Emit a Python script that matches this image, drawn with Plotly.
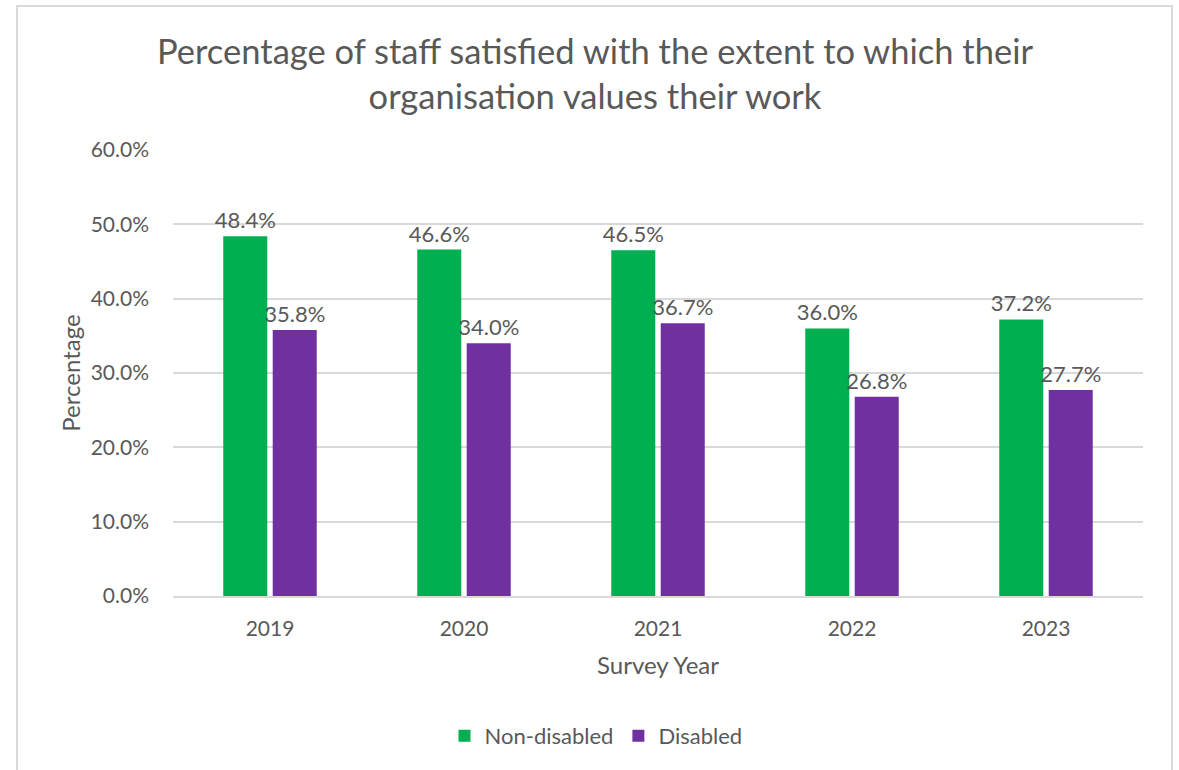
import plotly.graph_objects as go

years = ["2019", "2020", "2021", "2022", "2023"]
non_disabled = [48.4, 46.6, 46.5, 36.0, 37.2]
disabled = [35.8, 34.0, 36.7, 26.8, 27.7]
y_ticks = [0, 10, 20, 30, 40, 50, 60]
y_tick_labels = ["0.0%", "10.0%", "20.0%", "30.0%", "40.0%", "50.0%", "60.0%"]

FONT = "Lato"
TXT = "#595959"
W, H = 1179, 770
L, R, T, B = 173, 36, 150, 174

fig = go.Figure()
for name, vals, col in [("Non-disabled", non_disabled, "#00B050"),
                        ("Disabled", disabled, "#7030A0")]:
    fig.add_trace(go.Bar(
        name=name, x=years, y=vals, marker_color=col, marker_line_width=0,
        text=[f"{v:.1f}%" for v in vals], textposition="outside",
        constraintext="none",
        textfont=dict(family=FONT, size=22, color=TXT), cliponaxis=False,
    ))

pw, ph = W - L - R, H - T - B
def px(x): return (x - L) / pw
def py(y): return (H - B - y) / ph

fig.add_shape(type="rect", xref="paper", yref="paper",
              x0=px(17), x1=px(1172), y0=py(790), y1=py(6),
              line=dict(color="#D9D9D9", width=2), fillcolor="rgba(0,0,0,0)", layer="below")

fig.update_layout(
    width=W, height=H,
    margin=dict(l=L, r=R, t=T, b=B, pad=0, autoexpand=False),
    paper_bgcolor="white", plot_bgcolor="white",
    barmode="group", bargap=0.49, bargroupgap=0.11,
    font=dict(family=FONT, color=TXT, size=21),
    title=dict(
        text="Percentage of staff satisfied with the extent to which their<br>organisation values their work",
        x=595 / W, xref="container", xanchor="center",
        y=1 - 64 / H, yref="container", yanchor="middle",
        font=dict(family=FONT, size=34.5, color=TXT),
    ),
    xaxis=dict(
        showgrid=False, showline=True, linecolor="#D9D9D9", linewidth=2,
        ticks="", ticklabelstandoff=13, tickfont=dict(family=FONT, size=21, color=TXT),
        title=dict(text="Survey Year", font=dict(family=FONT, size=24, color=TXT), standoff=18),
    ),
    yaxis=dict(
        range=[0, 60], tickvals=y_ticks, ticktext=y_tick_labels,
        showgrid=True, gridcolor="#D9D9D9", gridwidth=2, zeroline=False,
        showline=False, ticks="", ticklabelstandoff=23,
        tickfont=dict(family=FONT, size=21, color=TXT),
        title=dict(text="Percentage", font=dict(family=FONT, size=24, color=TXT), standoff=3),
    ),
    legend=dict(
        orientation="h", x=px(596), xanchor="center",
        y=py(736), yanchor="middle",
        font=dict(family=FONT, size=22, color=TXT), itemwidth=30, traceorder="normal",
    ),
)

fig.write_html("out.html", config={"displayModeBar": False},
               post_script="document.body.style.margin='0';")
